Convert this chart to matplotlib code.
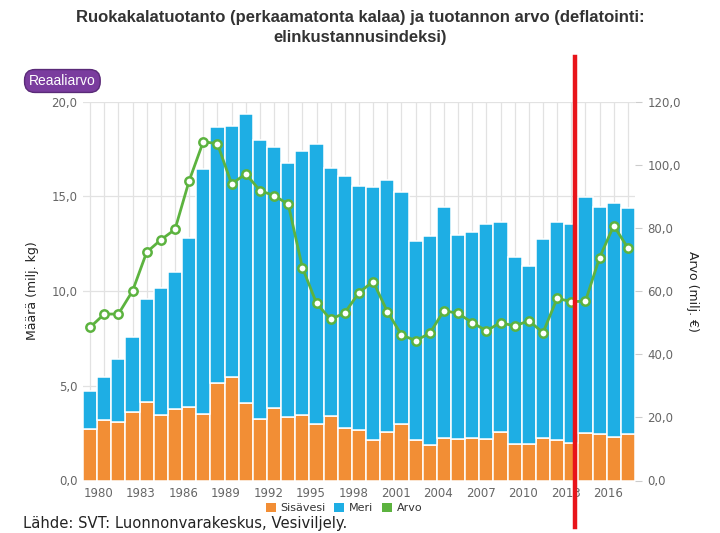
import matplotlib
matplotlib.use("Agg")
import matplotlib.pyplot as plt
from matplotlib.patches import Patch
from matplotlib.lines import Line2D
from matplotlib.ticker import FuncFormatter
from matplotlib.transforms import ScaledTranslation

years = list(range(1980, 2019))

# Sisävesi (inland), milj. kg
sisavesi = [2.71, 3.19, 3.08, 3.62, 4.13, 3.46, 3.76, 3.88, 3.50, 5.13,
            5.48, 4.07, 3.24, 3.84, 3.37, 3.44, 2.98, 3.43, 2.77, 2.69,
            2.14, 2.58, 2.98, 2.14, 1.86, 2.24, 2.17, 2.23, 2.17, 2.54,
            1.95, 1.95, 2.23, 2.16, 1.98, 2.53, 2.47, 2.27, 2.44]

# total production (Sisävesi + Meri), milj. kg
total = [4.74, 5.48, 6.40, 7.59, 9.56, 10.14, 11.00, 12.78, 16.43, 18.68,
         18.71, 19.33, 17.98, 17.59, 16.75, 17.41, 17.75, 16.48, 16.08, 15.54,
         15.48, 15.86, 15.21, 12.63, 12.90, 14.42, 12.96, 13.10, 13.52, 13.66,
         11.82, 11.34, 12.73, 13.63, 13.56, 14.95, 14.45, 14.63, 14.37]

meri = [round(t - s, 2) for t, s in zip(total, sisavesi)]

# Arvo, milj. € (right axis)
arvo = [48.5, 52.7, 52.7, 60.0, 72.3, 76.2, 79.5, 94.9, 107.3, 106.6,
        93.9, 97.1, 91.8, 90.2, 87.5, 67.4, 56.1, 51.0, 53.1, 59.5,
        63.0, 53.5, 46.1, 44.3, 46.6, 53.8, 52.9, 50.0, 47.4, 50.0,
        48.9, 50.6, 46.8, 57.7, 56.6, 56.8, 70.6, 80.7, 73.6]

tick_years = list(range(1980, 2019, 3))

c_orange = "#f28e35"
c_blue = "#1eaee4"
c_green = "#5cb33f"
grid_c = "#e2e2e2"
label_c = "#666666"

fig = plt.figure(figsize=(7.2, 5.33), dpi=100)
ax = fig.add_axes([83 / 720, 52.5 / 533, 552 / 720, 379 / 533])
ax2 = ax.twinx()

x = list(range(len(years)))
ax.bar(x, sisavesi, width=1.0, color=c_orange, edgecolor="white", linewidth=1.1, zorder=2)
ax.bar(x, meri, bottom=sisavesi, width=1.0, color=c_blue, edgecolor="white", linewidth=1.1, zorder=2)

ax2.plot(x, arvo, color=c_green, linewidth=2, marker="o", markersize=6,
         markerfacecolor="white", markeredgecolor=c_green, markeredgewidth=1.8, zorder=3)

fmt = FuncFormatter(lambda v, p: f"{v:.1f}".replace(".", ","))

ax.set_xlim(-0.5, len(years) - 0.5)
ax.set_ylim(0, 20)
ax.set_yticks([0, 5, 10, 15, 20])
ax.yaxis.set_major_formatter(fmt)
ax2.set_ylim(0, 120)
ax2.set_yticks([0, 20, 40, 60, 80, 100, 120])
ax2.yaxis.set_major_formatter(fmt)

ax.set_xticks([years.index(y) for y in tick_years])
ax.set_xticklabels([str(y) for y in tick_years])
ax.set_xticks(x, minor=True)
ax.tick_params(axis="x", which="both", length=0, pad=5, labelsize=8.5, labelcolor=label_c)
for lab in ax.get_xticklabels():
    lab.set_horizontalalignment("left")
    lab.set_transform(lab.get_transform() + ScaledTranslation(-0.065, 0, fig.dpi_scale_trans))
ax.tick_params(axis="y", length=0, pad=4, labelsize=8.5, labelcolor=label_c)
ax2.tick_params(axis="y", length=5, width=0.8, color="#cccccc", pad=4, labelsize=8.5, labelcolor=label_c)

ax.grid(axis="x", which="minor", color=grid_c, linewidth=0.9)
ax.grid(axis="x", which="major", color=grid_c, linewidth=0.9)
ax.grid(axis="y", color=grid_c, linewidth=0.9)
ax.set_axisbelow(True)

for a in (ax, ax2):
    for s in a.spines.values():
        s.set_visible(False)

ax.set_ylabel("Määrä (milj. kg)", fontsize=9, color="#222222", labelpad=9)
ax2.set_ylabel("Arvo (milj. €)", fontsize=9, color="#222222", rotation=270, labelpad=13)

fig.text(0.5, 1 - 10 / 533,
         "Ruokakalatuotanto (perkaamatonta kalaa) ja tuotannon arvo (deflatointi:\nelinkustannusindeksi)",
         ha="center", va="top", fontsize=12, fontweight="bold", color="#333333",
         family="Liberation Sans", linespacing=1.45)

fig.text(29 / 720, 1 - 81 / 533, "Reaaliarvo", ha="left", va="center", fontsize=10,
         color="white", family="Liberation Sans",
         bbox=dict(boxstyle="round,pad=0.32,rounding_size=0.75", fc="#7a3c9e", ec="#5a2a78", lw=1))

handles = [Patch(facecolor=c_orange, edgecolor="none"),
           Patch(facecolor=c_blue, edgecolor="none"),
           Patch(facecolor=c_green, edgecolor="none")]
fig.legend(handles, ["Sisävesi", "Meri", "Arvo"], loc="center", bbox_to_anchor=(344 / 720, 25 / 533),
           ncol=3, frameon=False, fontsize=8, handlelength=0.9, handleheight=0.9,
           handletextpad=0.4, columnspacing=0.8, labelcolor="#333333")

fig.text(23 / 720, 1 - 516 / 533, "Lähde: SVT: Luonnonvarakeskus, Vesiviljely.",
         ha="left", va="top", fontsize=10.6, color="#222222")

# red marker line drawn over the chart
fig.add_artist(Line2D([575 / 720, 575 / 720], [1 - 57 / 533, 1 - 527 / 533],
                      transform=fig.transFigure, color="#e8141a", linewidth=3.2, zorder=10))

fig.savefig("out.png", dpi=100)
